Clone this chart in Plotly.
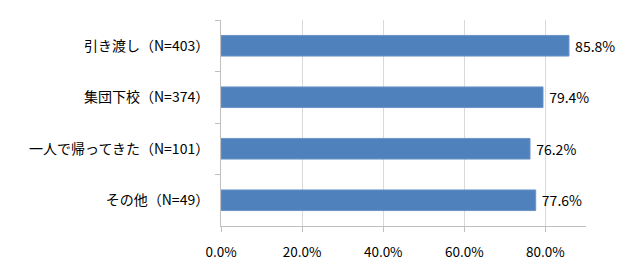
import plotly.graph_objects as go

categories = ["引き渡し（N=403）", "集団下校（N=374）", "一人で帰ってきた（N=101）", "その他（N=49）"]
values = [85.8, 79.4, 76.2, 77.6]
tick_vals = [0, 20, 40, 60, 80]
tick_text = [f"{v:.1f}%" for v in tick_vals]

fig = go.Figure(go.Bar(
    y=categories, x=values, orientation="h",
    marker=dict(color="#4F81BD", line=dict(color="#6A93C8", width=1)),
    texttemplate=" %{x:.1f}%", textposition="outside",
    textfont=dict(size=14, color="#000000", family="Noto Sans CJK JP"),
    cliponaxis=False, width=0.4,
))

fig.update_layout(
    width=620, height=276,
    margin=dict(l=221, r=34, t=20, b=50),
    paper_bgcolor="white", plot_bgcolor="white",
    font=dict(family="Noto Sans CJK JP", size=14, color="#000000"),
    showlegend=False,
    xaxis=dict(range=[0, 90], tickvals=tick_vals, ticktext=tick_text,
               showgrid=True, gridcolor="#D9D9D9", gridwidth=1,
               showline=True, linecolor="#BFBFBF", linewidth=1,
               ticks="outside", ticklen=5, tickcolor="#BFBFBF",
               ticklabelstandoff=9,
               tickfont=dict(size=13.5), zeroline=False),
    yaxis=dict(autorange="reversed", showgrid=False,
               showline=True, linecolor="#BFBFBF", linewidth=1,
               ticks="outside", ticklen=5, tickcolor="#BFBFBF", tickson="boundaries",
               ticklabelstandoff=8,
               tickfont=dict(size=14)),
)

fig.write_html("out.html")
